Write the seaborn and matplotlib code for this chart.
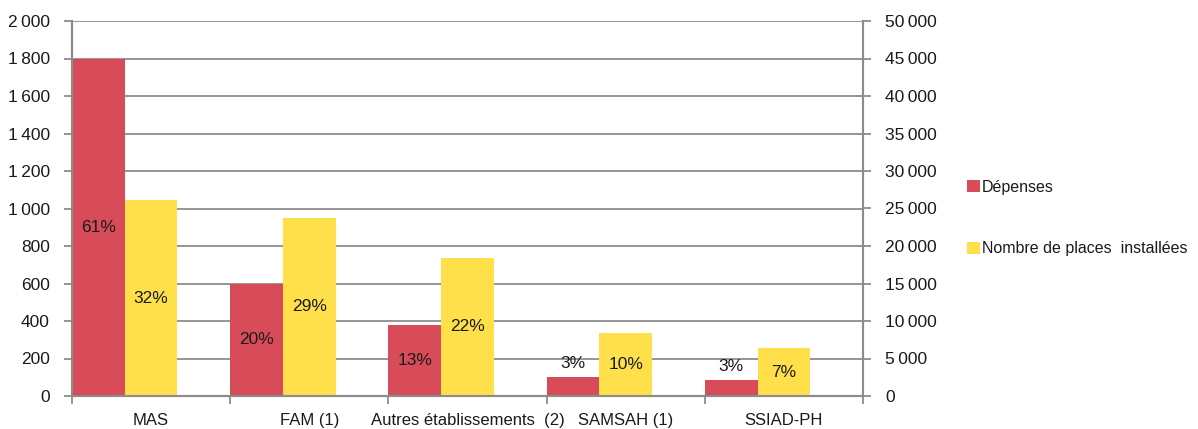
import numpy as np
import pandas as pd
import matplotlib
matplotlib.use("Agg")
import matplotlib.pyplot as plt
from matplotlib.ticker import FuncFormatter, FixedLocator, MultipleLocator
from matplotlib.patches import Patch
import seaborn as sns

# ---- data ----
categories = ["MAS", "FAM (1)", "Autres établissements  (2)", "SAMSAH (1)", "SSIAD-PH"]
depenses = [1800, 600, 379, 100, 84]                 # left axis
places = [26100, 23750, 18450, 8450, 6350]          # right axis
depenses_pct = ["61%", "20%", "13%", "3%", "3%"]
places_pct = ["32%", "29%", "22%", "10%", "7%"]
series_names = ["Dépenses", "Nombre de places  installées"]

RED = "#D84B59"
YELLOW = "#FFE04A"
GRID = "#8C8C8C"
TXT = "#1a1a1a"
FS = 12.5

sns.set_theme(style="white")
plt.rcParams["font.family"] = ["Liberation Sans", "DejaVu Sans"]

fig = plt.figure(figsize=(11.98, 4.29), dpi=100)
ax = fig.add_axes([72 / 1198, 1 - 396 / 429, (863 - 72) / 1198, (396 - 21) / 429])
ax2 = ax.twinx()

df_dep = pd.DataFrame({"cat": categories, "val": depenses, "serie": series_names[0]})
df_pla = pd.DataFrame({"cat": categories, "val": places, "serie": series_names[1]})
palette = {series_names[0]: RED, series_names[1]: YELLOW}

sns.barplot(data=df_dep, x="cat", y="val", hue="serie", hue_order=series_names,
            order=categories, palette=palette, dodge=True, width=2 / 3,
            saturation=1, legend=False, ax=ax, linewidth=0)
sns.barplot(data=df_pla, x="cat", y="val", hue="serie", hue_order=series_names,
            order=categories, palette=palette, dodge=True, width=2 / 3,
            saturation=1, legend=False, ax=ax2, linewidth=0)

n = len(categories)
for a in (ax, ax2):
    a.set_xlim(-1 / 3, n - 1 / 3)
    a.set_xlabel("")
    a.set_ylabel("")

ax.set_ylim(0, 2000)
ax2.set_ylim(0, 50000)
ax.yaxis.set_major_locator(MultipleLocator(200))
ax2.yaxis.set_major_locator(MultipleLocator(5000))
fmt = FuncFormatter(lambda v, p: f"{int(v):,}".replace(",", "\u2009"))
ax.yaxis.set_major_formatter(fmt)
ax2.yaxis.set_major_formatter(fmt)

ax.grid(axis="y", color=GRID, linewidth=1.3)
ax.set_axisbelow(True)
ax2.grid(False)

# category labels centered, boundary ticks
centers = np.arange(n) + 1 / 6
ax.xaxis.set_major_locator(FixedLocator(centers))
ax.set_xticklabels(categories)
ax.xaxis.set_minor_locator(FixedLocator(np.arange(n + 1) - 1 / 3))
ax.tick_params(axis="x", which="major", length=0, pad=12, labelsize=12, labelcolor=TXT)
ax.tick_params(axis="x", which="minor", length=6, width=1.3, color=GRID, direction="out", bottom=True)
ax.tick_params(axis="y", length=6, width=1.3, color=GRID, pad=10, labelsize=FS, labelcolor=TXT, left=True)
ax2.tick_params(axis="y", length=6, width=1.3, color=GRID, pad=10, labelsize=FS, labelcolor=TXT, right=True)

for a in (ax, ax2):
    for s in ("left", "right", "bottom"):
        a.spines[s].set_color(GRID)
        a.spines[s].set_linewidth(1.5)
    a.spines["top"].set_visible(False)

# value labels centered in bars (above when bar too small)
def label_bars(a, texts, ylim):
    bars = [p for p in a.patches if p.get_height() > 0]
    bars.sort(key=lambda p: p.get_x())
    for p, t in zip(bars, texts):
        xc = p.get_x() + p.get_width() / 2
        h = p.get_height()
        if h / ylim < 0.07:
            a.annotate(t, (xc, h), xytext=(0, 10), textcoords="offset points",
                       ha="center", va="center", fontsize=FS, color=TXT)
        else:
            a.text(xc, h / 2, t, ha="center", va="center", fontsize=FS, color=TXT)

label_bars(ax, depenses_pct, 2000)
label_bars(ax2, places_pct, 50000)

handles = [Patch(facecolor=RED, edgecolor="none"), Patch(facecolor=YELLOW, edgecolor="none")]
fig.legend(handles, series_names, loc="center left", bbox_to_anchor=(967 / 1198, 1 - 218 / 429),
           frameon=False, fontsize=11.5, handlelength=0.8, handleheight=0.8,
           handletextpad=0.15, labelspacing=2.9, borderaxespad=0, borderpad=0,
           labelcolor=TXT)

fig.savefig("out.png", dpi=100)
